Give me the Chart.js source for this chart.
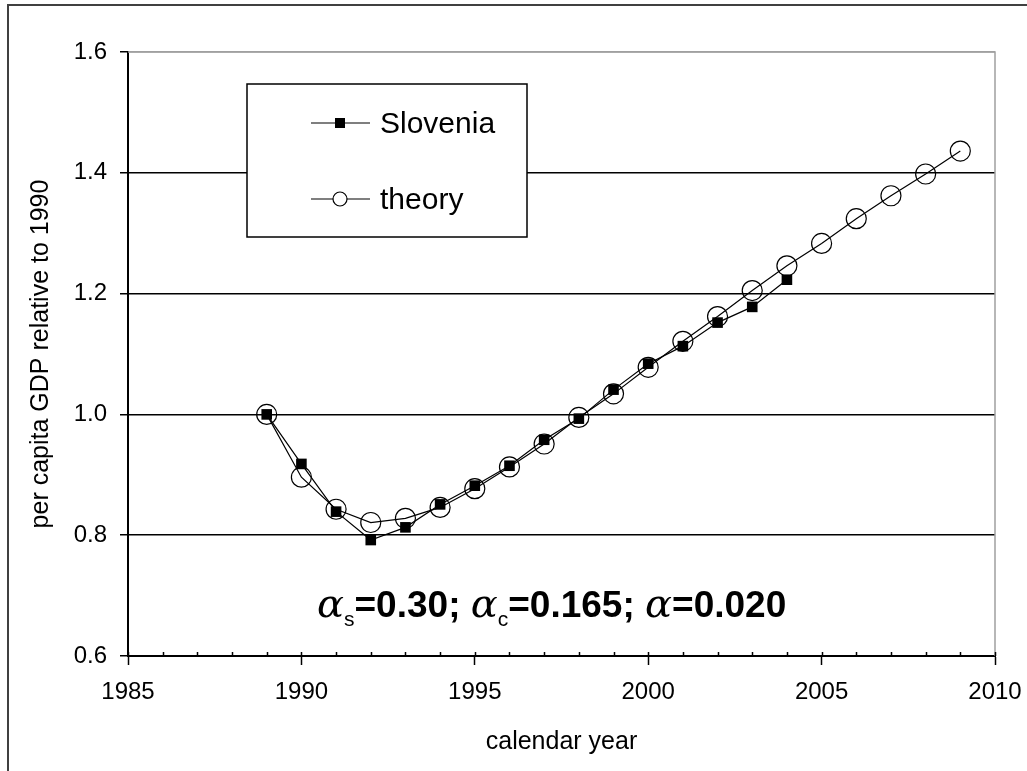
<!DOCTYPE html>
<html>
<head>
<meta charset="utf-8">
<script src="https://cdn.jsdelivr.net/npm/chart.js@4.4.1/dist/chart.umd.min.js"></script>
<style>
    html, body { margin: 0; padding: 0; background: #fff; }
    #chart { display: block; }
</style>
</head>
<body>
<canvas id="chart" width="1027" height="771"></canvas>
<script>
// data
var sloveniaYears = [1989, 1990, 1991, 1992, 1993, 1994, 1995, 1996, 1997, 1998, 1999, 2000, 2001, 2002, 2003, 2004];
var sloveniaValues = [1.000, 0.918, 0.839, 0.792, 0.813, 0.851, 0.882, 0.915, 0.958, 0.993, 1.041, 1.084, 1.113, 1.152, 1.178, 1.223];
var theoryYears = [1989, 1990, 1991, 1992, 1993, 1994, 1995, 1996, 1997, 1998, 1999, 2000, 2001, 2002, 2003, 2004, 2005, 2006, 2007, 2008, 2009];
var theoryValues = [1.000, 0.896, 0.843, 0.821, 0.828, 0.846, 0.877, 0.913, 0.951, 0.995, 1.034, 1.078, 1.121, 1.162, 1.205, 1.246, 1.283, 1.324, 1.362, 1.398, 1.436];
var xTickLabels = [1985, 1990, 1995, 2000, 2005, 2010];
var yTickValues = [0.6, 0.8, 1.0, 1.2, 1.4, 1.6];

var SANS = '"Liberation Sans", Arial, sans-serif';
var GREEK = 'italic 40px "DejaVu Serif", serif';

function toPoints(xs, ys) {
    return xs.map(function (x, i) { return { x: x, y: ys[i] }; });
}

// white page + frame lines, plot border, inner minor ticks
var framePlugin = {
    id: 'frame',
    beforeDraw: function (chart) {
        var ctx = chart.ctx;
        ctx.save();
        ctx.fillStyle = '#fff';
        ctx.fillRect(0, 0, chart.width, chart.height);
        ctx.strokeStyle = '#404040';
        ctx.lineWidth = 2;
        ctx.beginPath();
        ctx.moveTo(8, chart.height);
        ctx.lineTo(8, 5);
        ctx.lineTo(chart.width, 5);
        ctx.stroke();
        ctx.restore();
    },
    afterDraw: function (chart) {
        var ctx = chart.ctx, a = chart.chartArea, xs = chart.scales.x;
        ctx.save();
        ctx.strokeStyle = '#a0a0a0';
        ctx.lineWidth = 1.5;
        ctx.beginPath();
        ctx.moveTo(a.left, a.top);
        ctx.lineTo(a.right, a.top);
        ctx.lineTo(a.right, a.bottom);
        ctx.stroke();
        // small ticks pointing into the plot at every year
        ctx.strokeStyle = '#000';
        ctx.lineWidth = 1.5;
        ctx.beginPath();
        xs.ticks.forEach(function (t) {
            var px = Math.round(xs.getPixelForValue(t.value)) + 0.5;
            ctx.moveTo(px, a.bottom);
            ctx.lineTo(px, a.bottom - 4);
        });
        ctx.stroke();
        ctx.restore();
    }
};

// legend box and the parameter line
var notesPlugin = {
    id: 'notes',
    afterDatasetsDraw: function (chart) {
        var ctx = chart.ctx;
        ctx.save();
        // legend
        ctx.fillStyle = '#fff';
        ctx.fillRect(247, 84, 280, 153);
        ctx.strokeStyle = '#000';
        ctx.lineWidth = 1.5;
        ctx.strokeRect(247, 84, 280, 153);
        var rows = [123, 199];
        chart.data.datasets.forEach(function (ds, i) {
            var y = rows[i];
            ctx.strokeStyle = '#000';
            ctx.lineWidth = 1.2;
            ctx.beginPath();
            ctx.moveTo(311, y);
            ctx.lineTo(370, y);
            ctx.stroke();
            if (ds.pointStyle === 'rect') {
                ctx.fillStyle = '#000';
                ctx.fillRect(335, y - 5, 10, 10);
            } else {
                ctx.fillStyle = '#fff';
                ctx.beginPath();
                ctx.arc(340, y, 7, 0, Math.PI * 2);
                ctx.fill();
                ctx.stroke();
            }
            ctx.fillStyle = '#000';
            ctx.font = '30px ' + SANS;
            ctx.textBaseline = 'alphabetic';
            ctx.textAlign = 'left';
            ctx.fillText(ds.label, 380, y + 10);
        });

        // αs=0.30; αc=0.165; α=0.020
        var parts = [
            { t: 'α', f: GREEK, dy: 0 },
            { t: 's', f: '21px ' + SANS, dy: 9 },
            { t: '=0.30; ', f: 'bold 37px ' + SANS, dy: 0 },
            { t: 'α', f: GREEK, dy: 0 },
            { t: 'c', f: '21px ' + SANS, dy: 9 },
            { t: '=0.165; ', f: 'bold 37px ' + SANS, dy: 0 },
            { t: 'α', f: GREEK, dy: 0 },
            { t: '=0.020', f: 'bold 37px ' + SANS, dy: 0 }
        ];
        var x = 317, base = 617;
        ctx.fillStyle = '#000';
        parts.forEach(function (p) {
            ctx.font = p.f;
            ctx.fillText(p.t, x, base + p.dy);
            x += ctx.measureText(p.t).width;
        });
        ctx.restore();
    }
};

var ctx = document.getElementById('chart');
var chart = new Chart(ctx, {
    type: 'line',
    data: {
        datasets: [
            {
                label: 'Slovenia',
                data: toPoints(sloveniaYears, sloveniaValues),
                borderColor: '#000',
                borderWidth: 1.2,
                backgroundColor: '#000',
                pointStyle: 'rect',
                pointRadius: 7.5,
                pointBorderWidth: 0,
                pointBackgroundColor: '#000',
                tension: 0
            },
            {
                label: 'theory',
                data: toPoints(theoryYears, theoryValues),
                borderColor: '#000',
                borderWidth: 1.2,
                backgroundColor: 'rgba(0,0,0,0)',
                pointStyle: 'circle',
                pointRadius: 10,
                pointBorderWidth: 1.2,
                pointBorderColor: '#000',
                pointBackgroundColor: 'rgba(0,0,0,0)',
                tension: 0
            }
        ]
    },
    options: {
        responsive: false,
        animation: false,
        devicePixelRatio: 1,
        layout: { padding: { left: 0, right: 32, top: 52, bottom: 0 } },
        plugins: {
            legend: { display: false },
            tooltip: { enabled: false }
        },
        elements: { line: { fill: false } },
        scales: {
            x: {
                type: 'linear',
                min: 1985,
                max: 2010,
                afterFit: function (s) {
                    s.height = 115;
                    s.paddingLeft = 0;
                    s.paddingRight = 0;
                },
                ticks: {
                    stepSize: 1,
                    autoSkip: false,
                    maxRotation: 0,
                    padding: 13,
                    color: '#000',
                    font: { family: SANS, size: 24 },
                    callback: function (v) { return xTickLabels.indexOf(v) >= 0 ? String(v) : ''; }
                },
                grid: {
                    drawOnChartArea: false,
                    tickLength: 9,
                    tickWidth: 1.5,
                    tickColor: function (c) {
                        return c.tick && xTickLabels.indexOf(c.tick.value) >= 0 ? '#000' : 'rgba(0,0,0,0)';
                    }
                },
                border: { color: '#000', width: 2 },
                title: {
                    display: true,
                    text: 'calendar year',
                    color: '#000',
                    font: { family: SANS, size: 25 },
                    padding: { top: 0, bottom: 14 }
                }
            },
            y: {
                min: 0.6,
                max: 1.6,
                afterFit: function (s) {
                    s.width = 128;
                    s.paddingTop = 0;
                    s.paddingBottom = 0;
                },
                afterBuildTicks: function (s) {
                    s.ticks = yTickValues.map(function (v) { return { value: v }; });
                },
                ticks: {
                    padding: 13,
                    color: '#000',
                    font: { family: SANS, size: 24 },
                    callback: function (v) { return Number(v).toFixed(1); }
                },
                grid: {
                    color: function (c) {
                        return c.tick && Math.abs(c.tick.value - 1.6) < 1e-6 ? '#a0a0a0' : '#000';
                    },
                    lineWidth: 1.5,
                    tickLength: 8,
                    tickColor: '#000',
                    tickWidth: 1.5
                },
                border: { color: '#000', width: 2 },
                title: {
                    display: true,
                    text: 'per capita GDP relative to 1990',
                    color: '#000',
                    font: { family: SANS, size: 25 },
                    padding: { top: 26, bottom: 0 }
                }
            }
        }
    },
    plugins: [framePlugin, notesPlugin]
});
</script>
</body>
</html>
